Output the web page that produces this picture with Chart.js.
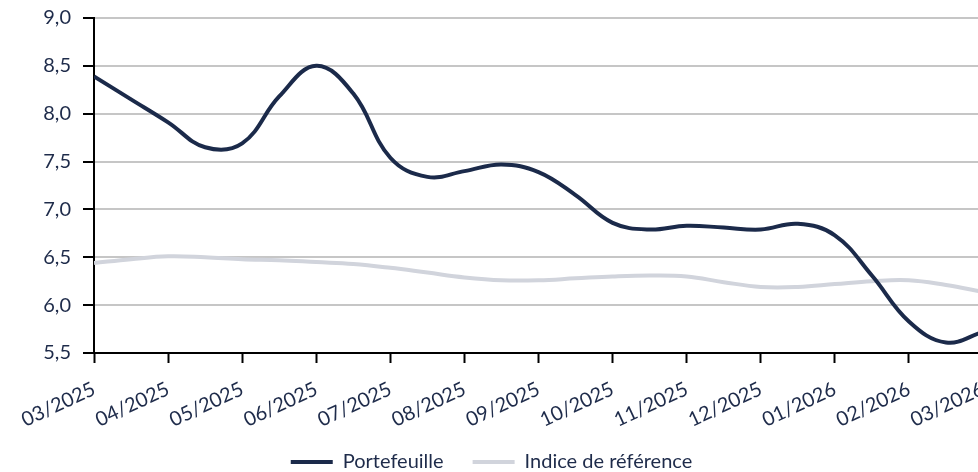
<!DOCTYPE html>
<html lang="fr">
<head>
<meta charset="utf-8">
<script src="https://cdn.jsdelivr.net/npm/chart.js@4"></script>
<style>
    html, body { margin: 0; padding: 0; background: #fff; overflow: hidden; }
    #wrap { position: absolute; left: 0; top: 0; width: 990px; height: 482px; }
</style>
</head>
<body>
<div id="wrap"><canvas id="graphique"></canvas></div>
<script>
// 1. DONNÉES (une valeur tous les demi-mois)
const moisLabels = ['03/2025', '04/2025', '05/2025', '06/2025', '07/2025', '08/2025', '09/2025',
    '10/2025', '11/2025', '12/2025', '01/2026', '02/2026', '03/2026'];

const portefeuille = [8.39, 8.15, 7.91, 7.65, 7.69, 8.18, 8.50, 8.21, 7.54, 7.34, 7.40, 7.47, 7.39,
    7.15, 6.86, 6.79, 6.83, 6.81, 6.79, 6.85, 6.73, 6.31, 5.83, 5.61, 5.72];

const indiceReference = [6.44, 6.48, 6.51, 6.50, 6.48, 6.47, 6.45, 6.43, 6.39, 6.34, 6.29, 6.26, 6.26,
    6.28, 6.30, 6.31, 6.30, 6.24, 6.19, 6.19, 6.22, 6.25, 6.26, 6.21, 6.14];

const graduationsY = [5.5, 6.0, 6.5, 7.0, 7.5, 8.0, 8.5, 9.0];

// position en mois (0 = 03/2025), un point tous les demi-mois
const enPoints = serie => serie.map((v, i) => ({ x: i / 2, y: v }));

const texte = '#1e2b4a';
const police = { family: 'Lato, "Open Sans", sans-serif', size: 20 };

// supprime les marges que Chart.js ajoute pour les étiquettes
const sansMarges = s => {
    s.paddingLeft = 0; s.paddingRight = 0; s.paddingTop = 0; s.paddingBottom = 0;
};

// 2. GRAPHIQUE
new Chart(document.getElementById('graphique'), {
    type: 'line',
    data: {
        datasets: [
            {
                label: 'Portefeuille',
                data: enPoints(portefeuille),
                borderColor: '#1b2a4a',
                backgroundColor: '#1b2a4a',
                borderWidth: 4,
                pointRadius: 0,
                tension: 0.4
            },
            {
                label: 'Indice de référence',
                data: enPoints(indiceReference),
                borderColor: '#d1d4dc',
                backgroundColor: '#d1d4dc',
                borderWidth: 4,
                pointRadius: 0,
                tension: 0.4
            }
        ]
    },
    options: {
        responsive: true,
        maintainAspectRatio: false,
        animation: false,
        layout: { padding: { top: 18, right: 7, left: 0, bottom: 0 } },
        scales: {
            x: {
                type: 'linear',
                min: 0,
                max: moisLabels.length - 1,
                afterFit: s => {
                    s.height = 70;
                    sansMarges(s);
                    // les étiquettes inclinées débordent sur la légende : pas de découpe
                    s._computeLabelArea = () => undefined;
                },
                border: { color: '#000', width: 2 },
                grid: { drawOnChartArea: false, tickLength: 10, tickColor: '#000', tickWidth: 2 },
                ticks: {
                    stepSize: 1,
                    autoSkip: false,
                    minRotation: 25,
                    maxRotation: 25,
                    padding: 14,
                    color: texte,
                    font: police,
                    callback: v => moisLabels[v]
                }
            },
            y: {
                min: 5.5,
                max: 9.0,
                afterFit: s => { s.width = 94; sansMarges(s); },
                afterBuildTicks: s => { s.ticks = graduationsY.map(v => ({ value: v })); },
                border: { color: '#000', width: 2 },
                grid: { color: '#c6c6c6', lineWidth: 2, tickLength: 11, tickColor: '#000', tickWidth: 2 },
                ticks: {
                    padding: 12,
                    color: texte,
                    font: police,
                    callback: v => v.toFixed(1).replace('.', ',')
                }
            }
        },
        plugins: {
            tooltip: { enabled: false },
            legend: {
                position: 'bottom',
                labels: {
                    boxWidth: 42,
                    boxHeight: 4,
                    padding: 29,
                    color: texte,
                    font: police,
                    generateLabels: chart => Chart.defaults.plugins.legend.labels.generateLabels(chart)
                        .map(item => ({ ...item, lineWidth: 0 }))
                }
            }
        }
    }
});
</script>
</body>
</html>
